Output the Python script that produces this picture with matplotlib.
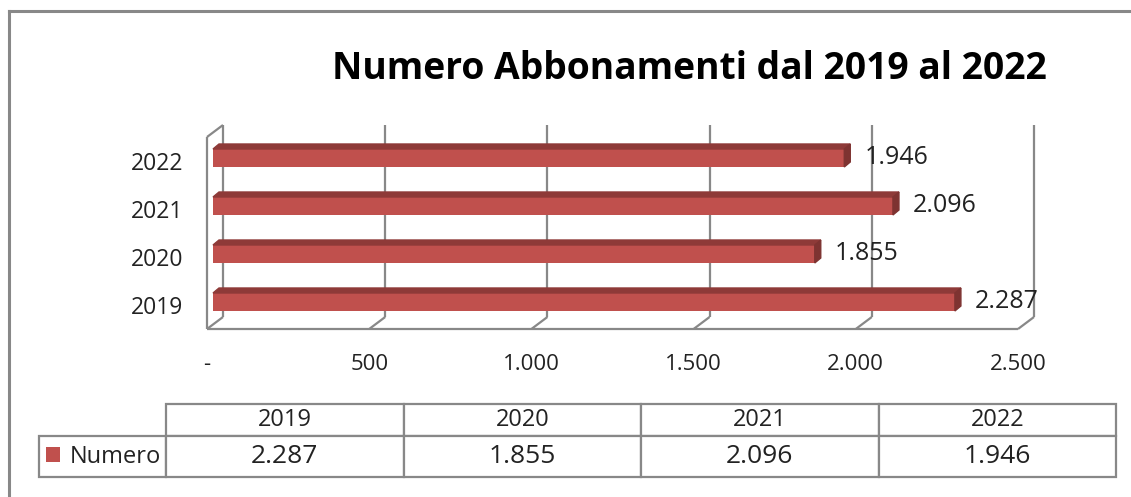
import matplotlib
matplotlib.use("Agg")
import matplotlib.pyplot as plt
from matplotlib.patches import Polygon
from matplotlib.lines import Line2D
from matplotlib.transforms import ScaledTranslation

years = ["2019", "2020", "2021", "2022"]
numero = [2287, 1855, 2096, 1946]
value_labels = ["2.287", "1.855", "2.096", "1.946"]
xticks = [0, 500, 1000, 1500, 2000, 2500]
xlabels = ["-", "500", "1.000", "1.500", "2.000", "2.500"]

plt.rcParams['font.family'] = ['Open Sans', 'DejaVu Sans']
red = "#C0504D"
dark = "#8E3A38"
gray = "#888888"
txt = "#222222"

W, H = 1131, 497
fig = plt.figure(figsize=(W / 100, H / 100), dpi=100)

# outer frame (left and top edges only visible)
fig.add_artist(Line2D([9 / W, 9 / W], [0, 1 - 11 / H], color=gray, lw=2.2))
fig.add_artist(Line2D([9 / W, 1], [1 - 11 / H, 1 - 11 / H], color=gray, lw=2.2))

fig.text(689 / W, 1 - 69 / H, "Numero Abbonamenti dal 2019 al 2022",
         ha="center", va="center", fontsize=26.8, fontweight="bold", color="black")

# plot plane (the plane of the bar fronts), in pixels
x0, x1, ytop, ybot = 213, 1024, 134, 326
ax = fig.add_axes([x0 / W, 1 - ybot / H, (x1 - x0) / W, (ybot - ytop) / H])
ax.set_facecolor("none")
for s in ax.spines.values():
    s.set_visible(False)

# pixel -> data units
ux = 2500 / (x1 - x0)
uy = 4 / (ybot - ytop)
fx, fy = -6 * ux, -3 * uy     # front plane
bx, by = 10 * ux, 9 * uy      # back wall
dx, dy = 6 * ux, 5 * uy       # bar depth

lk = dict(color=gray, lw=1.6, clip_on=False, zorder=1, solid_capstyle="butt")
for t in xticks:
    ax.plot([t + bx, t + bx], [-0.5 + by, 3.5 + by], **lk)
    ax.plot([t + bx, t + fx], [-0.5 + by, -0.5 + fy], **lk)
ax.plot([fx, 2500 + fx], [-0.5 + fy, -0.5 + fy], **lk)
ax.plot([fx, fx], [-0.5 + fy, 3.5 + fy], **lk)
ax.plot([fx, bx], [3.5 + fy, 3.5 + by], **lk)

# bars with 3d faces
h = 18 * uy
pos = list(range(len(years)))
ax.barh(pos, numero, height=h, color=red, zorder=3, label="Numero")
for i, v in zip(pos, numero):
    yt, yb = i + h / 2, i - h / 2
    ax.add_patch(Polygon([(0, yt), (v, yt), (v + dx, yt + dy), (dx, yt + dy)],
                         closed=True, color=dark, zorder=3, clip_on=False))
    ax.add_patch(Polygon([(v, yb), (v, yt), (v + dx, yt + dy), (v + dx, yb + dy)],
                         closed=True, color="#7E3331", zorder=3, clip_on=False))
    ax.text(v + 20 * ux, i, value_labels[i], ha="left", va="center",
            fontsize=18, color=txt)

ax.set_xlim(0, 2500)
ax.set_ylim(-0.5, 3.5)
ax.set_yticks(pos, years, fontsize=16.5, color=txt)
ax.set_xticks(xticks, xlabels, fontsize=16, color=txt)
ax.tick_params(axis="y", length=0, pad=21.5)
ax.tick_params(axis="x", length=0, pad=20)
# tick labels sit on the front plane of the 3d box
for lbl in ax.get_xticklabels():
    lbl.set_transform(lbl.get_transform() + ScaledTranslation(-0.06, 0, fig.dpi_scale_trans))
for lbl in ax.get_yticklabels():
    lbl.set_transform(lbl.get_transform() + ScaledTranslation(0, -0.03, fig.dpi_scale_trans))

# data table: first column holds the series name, its header cell is hidden
tl, tr, tt, tb = 39, 1116, 404, 476.5
tax = fig.add_axes([tl / W, 1 - tb / H, (tr - tl) / W, (tb - tt) / H])
tax.axis("off")
tbl = tax.table(cellText=[[""] + value_labels], colLabels=[""] + years,
                cellLoc="center", bbox=[0, 0, 1, 1])
tbl.auto_set_font_size(False)
for (r, c), cell in tbl.get_celld().items():
    cell.set_edgecolor(gray)
    cell.set_linewidth(1.6)
    cell.set_width((127 if c == 0 else 237.5) / (tr - tl))
    cell.set_height((32 if r == 0 else 40.5) / (tb - tt))
    cell.get_text().set_color(txt)
    cell.get_text().set_fontsize(17 if r == 0 else 19)
    if r == 0 and c == 0:
        cell.set_visible(False)

fig.legend(loc="center left", bbox_to_anchor=(46 / W, 1 - 457 / H),
           frameon=False, fontsize=17, handlelength=0.6, handleheight=0.6,
           handletextpad=0.42, borderpad=0, borderaxespad=0, labelcolor=txt)

fig.savefig("out.png", dpi=100)
